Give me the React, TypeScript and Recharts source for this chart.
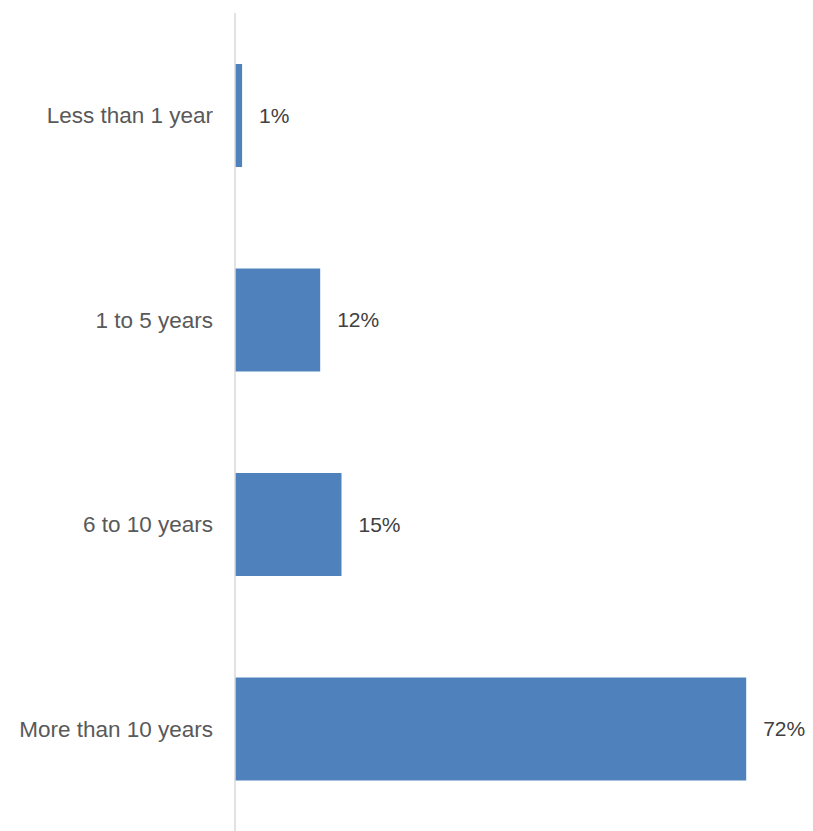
import { BarChart, Bar, XAxis, YAxis, LabelList } from 'recharts';

const categories = ['Less than 1 year', '1 to 5 years', '6 to 10 years', 'More than 10 years'];
const shares = [1, 12, 15, 72];

const data = categories.map((name, i) => ({ name, value: shares[i] }));

const font = "'Liberation Sans', Arial, sans-serif";

export default function App() {
  return (
    <div style={{ width: 797, height: 823, fontFamily: font }}>
      <BarChart
        width={797}
        height={823}
        data={data}
        layout="vertical"
        margin={{ top: 5, right: 2, bottom: 0, left: 0 }}
        style={{ overflow: 'visible' }}
      >
        <XAxis type="number" dataKey="value" domain={[0, 80]} hide />
        <YAxis
          type="category"
          dataKey="name"
          width={227}
          axisLine={{ stroke: '#d9d9d9', strokeWidth: 1.5 }}
          tickLine={false}
          tickMargin={16}
          tick={{ fill: '#595959', fontSize: 22.5, fontFamily: font }}
        />
        <Bar dataKey="value" fill="#4f81bd" barSize={103} isAnimationActive={false}>
          <LabelList
            dataKey="value"
            position="right"
            offset={17}
            formatter={(v: number) => `${v}%`}
            fill="#404040"
            fontSize={21}
          />
        </Bar>
      </BarChart>
    </div>
  );
}
